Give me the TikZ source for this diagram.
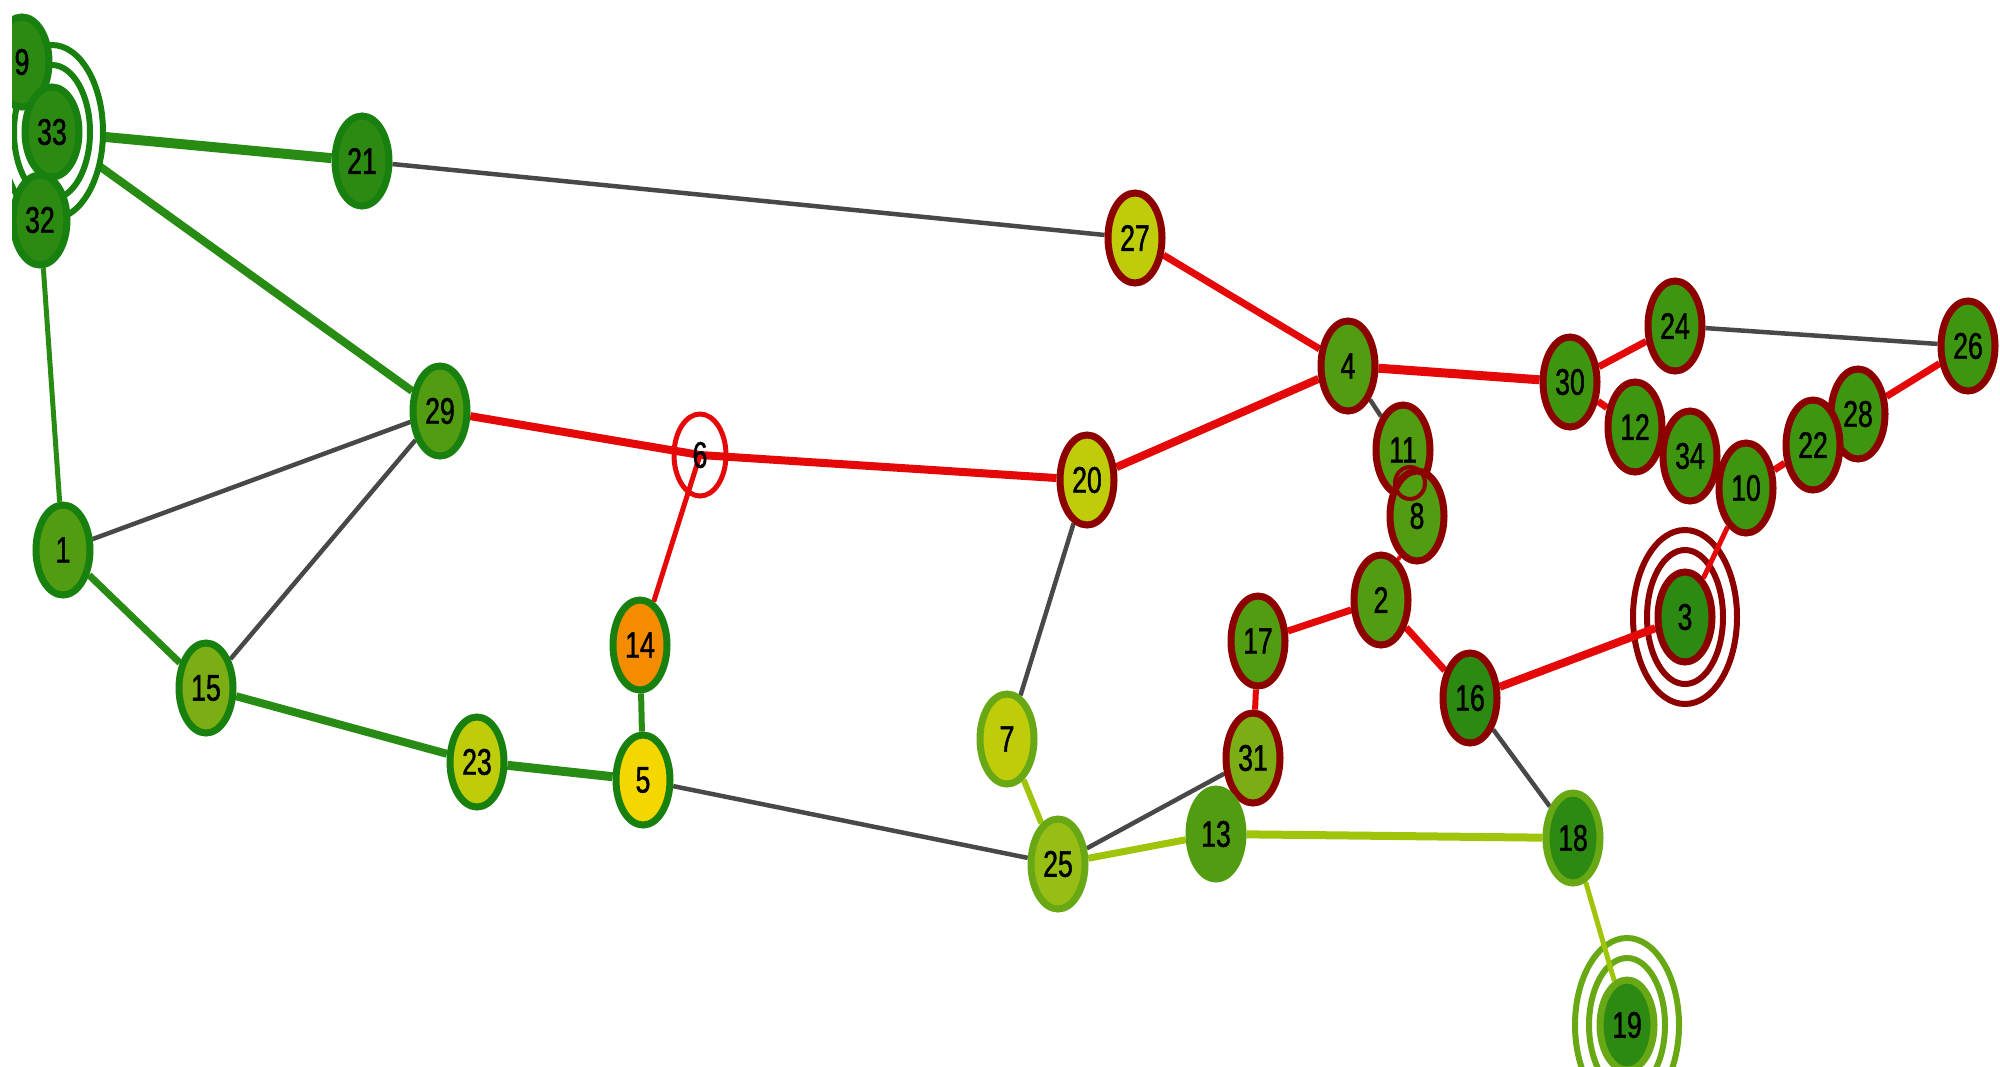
\documentclass[tikz,border=0pt]{standalone}
\usepackage{fontspec}
\newfontfamily\labfont[FakeStretch=0.72,FakeBold=1.2]{Liberation Sans}
\usetikzlibrary{shapes.geometric,calc}
\definecolor{GD}{RGB}{24,128,14}
\definecolor{LG}{RGB}{104,168,20}
\definecolor{DR}{RGB}{140,0,0}
\definecolor{EG}{RGB}{40,140,20}
\definecolor{ER}{RGB}{228,8,8}
\definecolor{EK}{RGB}{72,72,72}
\definecolor{EY}{RGB}{160,196,10}
\definecolor{fA}{RGB}{44,138,18}
\definecolor{fB}{RGB}{62,150,16}
\definecolor{fC}{RGB}{82,156,18}
\definecolor{fD}{RGB}{122,174,20}
\definecolor{fE}{RGB}{150,190,20}
\definecolor{fF}{RGB}{190,204,10}
\definecolor{fY}{RGB}{245,215,0}
\definecolor{fO}{RGB}{245,140,0}
\pgfdeclarelayer{ringlayer}
\pgfdeclarelayer{edgelayer}
\pgfsetlayers{ringlayer,edgelayer,main}
\tikzset{
  lab/.style={font=\labfont\fontsize{37}{37}\selectfont, text=black},
  vtx/.style={ellipse, lab, minimum width=54, minimum height=90, inner sep=0pt, line width=7},
  gv/.style={vtx, draw=GD},
  lv/.style={vtx, draw=LG},
  rv/.style={vtx, draw=DR},
  ge/.style={draw=EG},
  re/.style={draw=ER},
  ke/.style={draw=EK, line width=4.5},
  ye/.style={draw=EY},
  ringline/.style={line width=6},
}
\begin{document}
\begin{tikzpicture}[x=1pt,y=-1pt]
\useasboundingbox (0,0) rectangle (2000,1066);
\begin{scope}
\clip (12,0) rectangle (2000,1066);
\fill[white, draw=GD, ringline] (52,132) ellipse [x radius=51, y radius=87];
\fill[white, draw=GD, ringline] (52,132) ellipse [x radius=38, y radius=67];
\node[gv, fill=fA] (n9) at (22,62) {9};
\node[gv, fill=fA] (n32) at (40,220) {32};
\node[gv, fill=fA] (n33) at (52,132) {33};
\end{scope}
\node[gv, fill=fA] (n21) at (362,161) {21};
\node[gv, fill=fC] (n29) at (440,411) {29};
\node[gv, fill=fC] (n1) at (63,550) {1};
\node[gv, fill=fD] (n15) at (206,688) {15};
\node[gv, fill=fF] (n23) at (477,762) {23};
\node[gv, fill=fY] (n5) at (643,780) {5};
\node[gv, fill=fO] (n14) at (640,645) {14};
\node[ellipse, lab, draw=ER, line width=5, minimum width=52, minimum height=82, inner sep=0pt] (n6) at (700,455) {6};
\node[rv, fill=fF] (n27) at (1135,238) {27};
\node[rv, fill=fF] (n20) at (1087,480) {20};
\node[lv, fill=fF] (n7) at (1007,739) {7};
\node[lv, fill=fE] (n25) at (1058,864) {25};
\node[rv, fill=fD] (n31) at (1253,758) {31};
\node[vtx, draw=fC, fill=fC] (n13) at (1216,834) {13};
\node[rv, fill=fC] (n4) at (1348,366) {4};
\node[rv, fill=fC] (n11) at (1403,450) {11};
\node[rv, fill=fC] (n8) at (1417,516) {8};
\node[rv, fill=fC] (n17) at (1258,641) {17};
\node[rv, fill=fC] (n2) at (1381,600) {2};
\node[rv, fill=fA] (n16) at (1470,698) {16};
\node[lv, fill=fA] (n18) at (1573,838) {18};
\node[lv, fill=fA] (n19) at (1627,1025) {19};
\node[rv, fill=fB] (n30) at (1570,382) {30};
\node[rv, fill=fB] (n24) at (1675,326) {24};
\node[rv, fill=fB] (n26) at (1968,346) {26};
\node[rv, fill=fB] (n12) at (1635,427) {12};
\node[rv, fill=fB] (n34) at (1690,456) {34};
\node[rv, fill=fB] (n10) at (1746,488) {10};
\node[rv, fill=fB] (n28) at (1858,414) {28};
\node[rv, fill=fB] (n22) at (1813,445) {22};
\node[rv, fill=fA] (n3) at (1685,617) {3};
\draw[DR, line width=4] ($(n11.center)!0.5!(n8.center)$) ellipse [x radius=15, y radius=16];
% rings
\begin{pgfonlayer}{ringlayer}
\draw[DR, ringline] (n3.center) ellipse [x radius=38, y radius=67];
\draw[DR, ringline] (n3.center) ellipse [x radius=52, y radius=87];
\draw[LG, ringline] (n19.center) ellipse [x radius=38, y radius=67];
\draw[LG, ringline] (n19.center) ellipse [x radius=52, y radius=87];
\end{pgfonlayer}
% edges
\begin{pgfonlayer}{edgelayer}
\draw[ge, line width=10] (n33) -- (n21);
\draw[ge, line width=8] (n33) -- (n29);
\draw[ge, line width=5] (n32) -- (n1);
\draw[ge, line width=7] (n1) -- (n15);
\draw[ge, line width=8] (n15) -- (n23);
\draw[ge, line width=9] (n23) -- (n5);
\draw[ge, line width=6] (n5) -- (n14);
\draw[ke] (n21) -- (n27);
\draw[ke] (n1) -- (n29);
\draw[ke] (n15) -- (n29);
\draw[ke] (n5) -- (n25);
\draw[ke] (n20) -- (n7);
\draw[ke] (n25) -- (n31);
\draw[ke] (n4) -- (n11);
\draw[ke] (n24) -- (n26);
\draw[ke] (n16) -- (n18);
\draw[re, line width=8] (n29) -- (n6.center);
\draw[re, line width=8] (n6.center) -- (n20);
\draw[re, line width=5] (n14) -- (n6.center);
\draw[re, line width=8] (n20) -- (n4);
\draw[re, line width=7] (n27) -- (n4);
\draw[re, line width=9] (n4) -- (n30);
\draw[re, line width=7] (n30) -- (n24);
\draw[re, line width=7] (n30) -- (n12);
\draw[re, line width=7] (n12) -- (n34);
\draw[re, line width=7] (n34) -- (n10);
\draw[re, line width=7] (n10) -- (n22);
\draw[re, line width=7] (n22) -- (n28);
\draw[re, line width=7] (n28) -- (n26);
\draw[re, line width=5] (n10) -- (n3);
\draw[re, line width=8] (n3) -- (n16);
\draw[re, line width=7] (n16) -- (n2);
\draw[re, line width=7] (n2) -- (n17);
\draw[re, line width=6] (n17) -- (n31);
\draw[re, line width=4] (n2) -- (n8);
\draw[ye, line width=6] (n7) -- (n25);
\draw[ye, line width=7] (n25) -- (n13);
\draw[ye, line width=8] (n13) -- (n18);
\draw[ye, line width=5] (n18) -- (n19);
\end{pgfonlayer}
\end{tikzpicture}
\end{document}
